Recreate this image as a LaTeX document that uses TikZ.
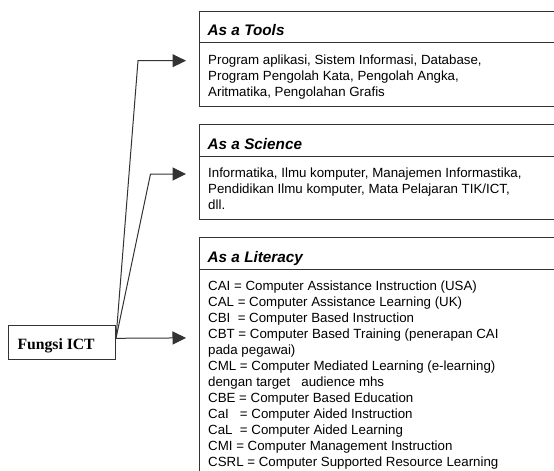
\documentclass[tikz,border=0pt]{standalone}
\usepackage{fontspec}
\setmainfont{Liberation Serif}
\newfontfamily\arialfont{Liberation Sans}
\usetikzlibrary{arrows.meta,calc}
\begin{document}
\begin{tikzpicture}[x=1pt,y=-1pt,
  frame/.style={draw=black!80, line width=1pt, inner sep=0pt, anchor=north west},
  rule/.style={draw=black!80, line width=1pt},
  hdr/.style={anchor=base west, inner sep=0pt, font=\arialfont\bfseries\itshape\fontsize{15.3}{18}\selectfont},
  body/.style={anchor=base west, inner sep=0pt, font=\arialfont\fontsize{13.3}{16}\selectfont},
  conn/.style={draw=black!80, line width=1pt, -{Triangle[length=13.5pt,width=13pt]}}
]
\useasboundingbox (0,0) rectangle (554,471);
\clip (0,0) rectangle (554,471);

% boxes (right side runs off the picture)
\node[frame, minimum width=380pt, minimum height=95.3pt] (tools) at (198.5,10.7) {};
\draw[rule] (198.5,42.7) -- (580,42.7);
\node[frame, minimum width=380pt, minimum height=95pt] (science) at (198.5,124) {};
\draw[rule] (198.5,156.5) -- (580,156.5);
\node[frame, minimum width=380pt, minimum height=250pt] (literacy) at (198.5,236.7) {};
\draw[rule] (198.5,269) -- (580,269);

% headers
\node[hdr] (h1) at (207.5,35.7) {As a Tools};
\node[hdr] (h2) at (207.5,149.5) {As a Science};
\node[hdr] (h3) at (207.5,262) {As a Literacy};

% tools text
\node[body] (t1) at (208,64) {Program aplikasi, Sistem Informasi, Database,};
\node[body] (t2) at (208,80) {Program Pengolah Kata, Pengolah Angka,};
\node[body] (t3) at (208,96) {Aritmatika, Pengolahan Grafis};

% science text
\node[body] (s1) at (208,177) {Informatika, Ilmu komputer, Manajemen Informastika,};
\node[body] (s2) at (208,193) {Pendidikan Ilmu komputer, Mata Pelajaran TIK/ICT,};
\node[body] (s3) at (208,209) {dll.};

% literacy text
\node[body] (l1) at (208,290) {CAI = Computer Assistance Instruction (USA)};
\node[body] (l2) at (208,306) {CAL = Computer Assistance Learning (UK)};
\node[body] (l3) at (208,322) {CBI\ \ = Computer Based Instruction};
\node[body] (l4) at (208,338) {CBT = Computer Based Training (penerapan CAI};
\node[body] (l5) at (208,354) {pada pegawai)};
\node[body] (l6) at (208,370) {CML = Computer Mediated Learning (e-learning)};
\node[body] (l7) at (208,386) {dengan target\ \ \ audience mhs};
\node[body] (l8) at (208,402) {CBE = Computer Based Education};
\node[body] (l9) at (208,418) {CaI\ \ \ = Computer Aided Instruction};
\node[body] (l10) at (208,434) {CaL\ \ = Computer Aided Learning};
\node[body] (l11) at (208,450) {CMI = Computer Management Instruction};
\node[body] (l12) at (208,466) {CSRL = Computer Supported Resource Learning};

% source box
\node[frame, minimum width=107pt, minimum height=34pt] (fbox) at (8,325) {};
\node[anchor=base west, inner sep=0pt, font=\bfseries\fontsize{15.7}{18}\selectfont] (ftext) at (17.3,349) {Fungsi ICT};

% connector points
\coordinate (o) at ($(fbox.north east)!0.38!(fbox.south east)$);
\coordinate (cT) at (138,60.7);
\coordinate (tipT) at (186,60.7);
\coordinate (cS) at (150.5,174);
\coordinate (tipS) at (186,174);
\coordinate (tipL) at (186,337.9);

\draw[conn] (o) -- (cT) -- (tipT);
\draw[conn] (o) -- (cS) -- (tipS);
\draw[conn] (o) -- (tipL);
\end{tikzpicture}
\end{document}
